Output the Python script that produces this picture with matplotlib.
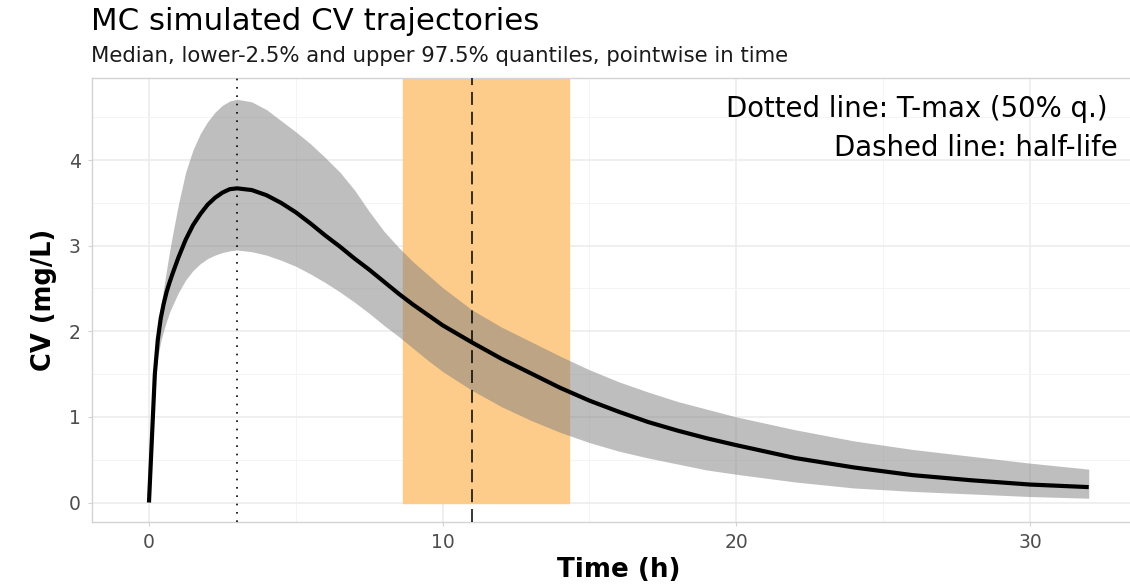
import matplotlib
matplotlib.use("Agg")
import matplotlib.pyplot as plt
from matplotlib.ticker import MultipleLocator

# time grid (h) and pointwise quantiles of simulated CV (mg/L)
time = [0, 0.2, 0.3, 0.4, 0.5, 0.6, 0.7, 0.8, 1.0, 1.25, 1.5, 1.75, 2.0, 2.25, 2.5, 2.75,
        3.0, 3.5, 4.0, 4.5, 5.0, 5.5, 6, 6.5, 7, 7.5, 8, 8.5, 9, 9.5, 10, 11, 12, 13, 14,
        15, 16, 17, 18, 19, 20, 22, 24, 26, 28, 30, 32]
cv_median = [0, 1.50, 1.90, 2.15, 2.32, 2.46, 2.57, 2.67, 2.86, 3.07, 3.24, 3.37, 3.48, 3.56,
             3.62, 3.66, 3.67, 3.65, 3.59, 3.50, 3.39, 3.26, 3.12, 2.99, 2.85, 2.72, 2.58,
             2.44, 2.31, 2.19, 2.07, 1.87, 1.68, 1.51, 1.34, 1.19, 1.06, 0.94, 0.84, 0.75,
             0.67, 0.52, 0.41, 0.32, 0.26, 0.21, 0.18]
cv_upper = [0, 1.55, 1.97, 2.27, 2.50, 2.72, 2.93, 3.12, 3.48, 3.86, 4.12, 4.31, 4.45, 4.56,
            4.64, 4.69, 4.71, 4.68, 4.59, 4.46, 4.33, 4.19, 4.03, 3.86, 3.65, 3.40, 3.17,
            2.98, 2.81, 2.66, 2.51, 2.25, 2.05, 1.88, 1.71, 1.55, 1.41, 1.29, 1.18, 1.09,
            1.00, 0.85, 0.72, 0.62, 0.54, 0.46, 0.39]
cv_lower = [0, 1.45, 1.70, 1.88, 2.01, 2.12, 2.22, 2.30, 2.45, 2.60, 2.71, 2.79, 2.85, 2.89,
            2.92, 2.94, 2.95, 2.93, 2.89, 2.83, 2.76, 2.67, 2.57, 2.46, 2.34, 2.21, 2.07,
            1.94, 1.80, 1.66, 1.53, 1.31, 1.12, 0.96, 0.82, 0.70, 0.60, 0.52, 0.45, 0.38,
            0.33, 0.24, 0.17, 0.13, 0.10, 0.07, 0.05]

t_max = 3.0          # T-max of the median
half_life = 11.0     # half-life
half_life_range = [8.65, 14.3]   # quantile range of the half-life

W, H = 1130, 586
fig = plt.figure(figsize=(W / 100, H / 100), dpi=100)
# panel runs a little past the right edge of the picture, as in the reference
left, right, top, bottom = 91.7, 1146, 78.5, 521.7
ax = fig.add_axes([left / W, 1 - bottom / H, (right - left) / W, (bottom - top) / H])

ax.set_xlim(-1.95, 33.95)
ax.set_ylim(-0.224, 4.953)
y0, y1 = ax.get_ylim()

# half-life interval
ax.axvspan(half_life_range[0], half_life_range[1], ymin=(0 - y0) / (y1 - y0), ymax=1,
           facecolor="#FDCB8A", edgecolor="#FDCB8A", lw=1, joinstyle="round", zorder=1)

# quantile band and median
ax.fill_between(time, cv_lower, cv_upper, color="#7F7F7F", alpha=0.5, lw=0, zorder=2)
ax.plot(time, cv_median, color="black", lw=3, solid_capstyle="butt",
        solid_joinstyle="round", zorder=3)

ax.axvline(t_max, color="black", lw=1.2, ls=(0, (1, 4)), zorder=4)
ax.axvline(half_life, color="black", lw=1.1, ls=(0, (8.5, 4.5)), zorder=4)

# grid / axes styling
ax.xaxis.set_major_locator(MultipleLocator(10))
ax.xaxis.set_minor_locator(MultipleLocator(5))
ax.yaxis.set_major_locator(MultipleLocator(1))
ax.yaxis.set_minor_locator(MultipleLocator(0.5))
ax.grid(which="major", color="#EBEBEB", lw=1.1)
ax.grid(which="minor", color="#F4F4F4", lw=0.7)
ax.set_axisbelow(True)
for s in ["left", "bottom", "top"]:
    ax.spines[s].set_color("#D3D3D3")
    ax.spines[s].set_linewidth(1.0)
ax.spines["right"].set_visible(False)
ax.tick_params(which="major", length=3, width=0.8, color="#D3D3D3",
               labelcolor="#4D4D4D", labelsize=13.5, pad=5)
ax.tick_params(which="minor", length=0)

ax.set_xlabel("Time (h)", fontsize=18.8, fontweight="bold", labelpad=4)
ax.set_ylabel("CV (mg/L)", fontsize=18.5, fontweight="bold", labelpad=8)

ax.text(0.9640, 0.913, "Dotted line: T-max (50% q.)", transform=ax.transAxes,
        ha="right", va="baseline", fontsize=19.8, color="black")
ax.text(0.9734, 0.825, "Dashed line: half-life", transform=ax.transAxes,
        ha="right", va="baseline", fontsize=19.8, color="black")

fig.text(91 / W, 1 - 30 / H, "MC simulated CV trajectories", fontsize=22.2, va="baseline")
fig.text(91 / W, 1 - 62 / H, "Median, lower-2.5% and upper 97.5% quantiles, pointwise in time",
         fontsize=15.3, va="baseline", color="#1A1A1A")

fig.savefig("out.png", dpi=100)
